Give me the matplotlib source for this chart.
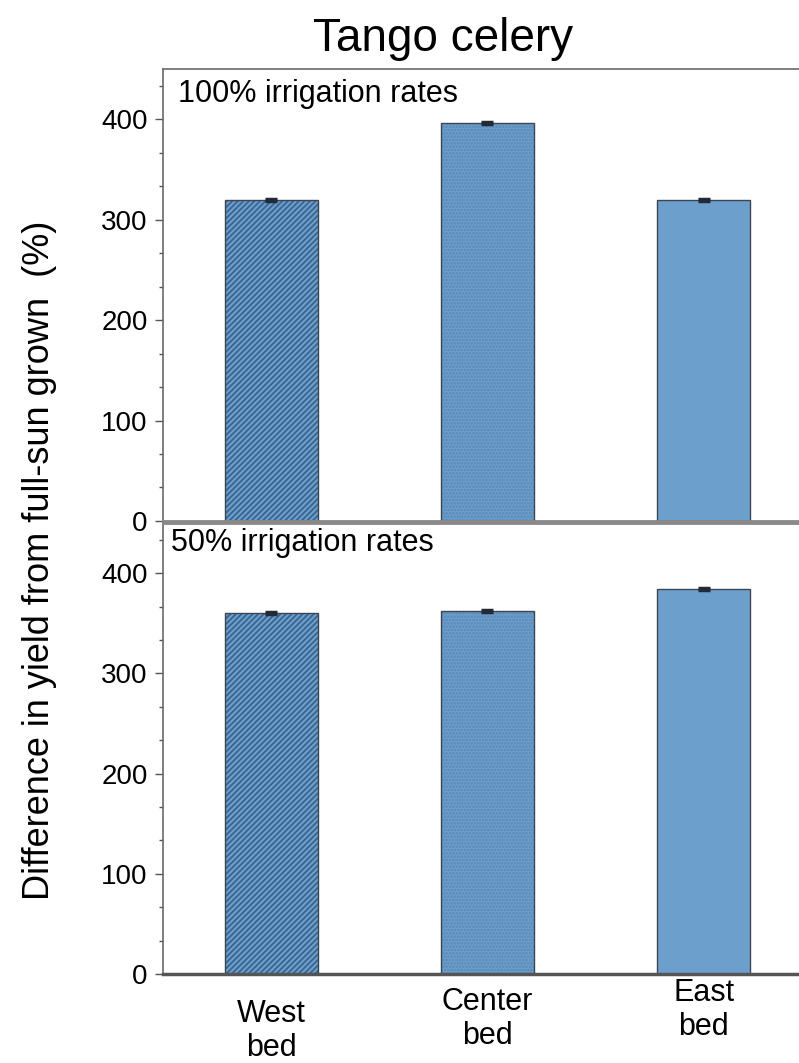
import matplotlib
matplotlib.use('Agg')
import matplotlib.pyplot as plt
from matplotlib.ticker import MultipleLocator, AutoMinorLocator

plt.rcParams['font.family'] = ['Liberation Sans', 'DejaVu Sans']
plt.rcParams['hatch.linewidth'] = 1.3

# 데이터
beds = ['West\nbed', 'Center\nbed', 'East\nbed']
yield_100 = [320, 396, 320]
yield_50 = [360, 362, 384]
err_100 = [1, 1, 1]
err_50 = [1, 1, 1]
panel_titles = ['100% irrigation rates', '50% irrigation rates']

fill_color = '#6d9fcd'
edge_color = '#3b4652'
hatches = ['//////', '.....', '']
hatch_colors = ['#3a6490', '#5786b3', fill_color]
label_drop = [-0.055, -0.028, -0.008]

fig = plt.figure(figsize=(7.99, 10.63), dpi=100)
ax_top = fig.add_axes([0.204, 0.5099, 0.812, 0.4252])
ax_bot = fig.add_axes([0.204, 0.0837, 0.812, 0.4243])

x = list(range(len(beds)))

for ax, vals, errs, title, txt_pos in [
        (ax_top, yield_100, err_100, panel_titles[0], (0.023, 0.978)),
        (ax_bot, yield_50, err_50, panel_titles[1], (0.012, 0.988))]:
    bars = ax.bar(x, vals, width=0.43, color=fill_color, edgecolor=edge_color,
                  linewidth=1.0, zorder=2)
    for b, h, hc in zip(bars, hatches, hatch_colors):
        b.set_hatch(h)
        b._hatch_color = matplotlib.colors.to_rgba(hc)
    ax.errorbar(x, vals, yerr=errs, fmt='none', ecolor='#222b35',
                capsize=4.5, capthick=2.5, elinewidth=1, zorder=3)
    ax.set_xlim(-0.5, 2.5)
    ax.set_ylim(0, 450)
    ax.yaxis.set_major_locator(MultipleLocator(100))
    ax.yaxis.set_minor_locator(AutoMinorLocator(3))
    ax.tick_params(axis='y', which='major', direction='out', length=6,
                   width=1, color='#555555', labelsize=20, pad=5)
    ax.tick_params(axis='y', which='minor', direction='out', length=3,
                   width=1, color='#555555')
    ax.set_xticks([])
    for s in ax.spines.values():
        s.set_color('#6a6a6a')
        s.set_linewidth(1.2)
    ax.text(txt_pos[0], txt_pos[1], title, transform=ax.transAxes,
            ha='left', va='top', fontsize=22)

ax_top.spines['bottom'].set_color('#888888')
ax_top.spines['bottom'].set_linewidth(2.0)
ax_bot.spines['top'].set_color('#888888')
ax_bot.spines['top'].set_linewidth(2.0)
ax_bot.spines['bottom'].set_color('#555555')
ax_bot.spines['bottom'].set_linewidth(2.5)

# 아래 패널의 x축 라벨
for xi, lab, dy in zip(x, beds, label_drop):
    ax_bot.text(xi, dy, lab, transform=ax_bot.get_xaxis_transform(),
                ha='center', va='top', fontsize=22, linespacing=1.2)

fig.text(0.555, 0.963, 'Tango celery', ha='center', va='center', fontsize=33)
fig.text(0.05, 0.473, 'Difference in yield from full-sun grown  (%)',
         rotation=90, ha='center', va='center', fontsize=26)

plt.savefig('out.png', dpi=100)
